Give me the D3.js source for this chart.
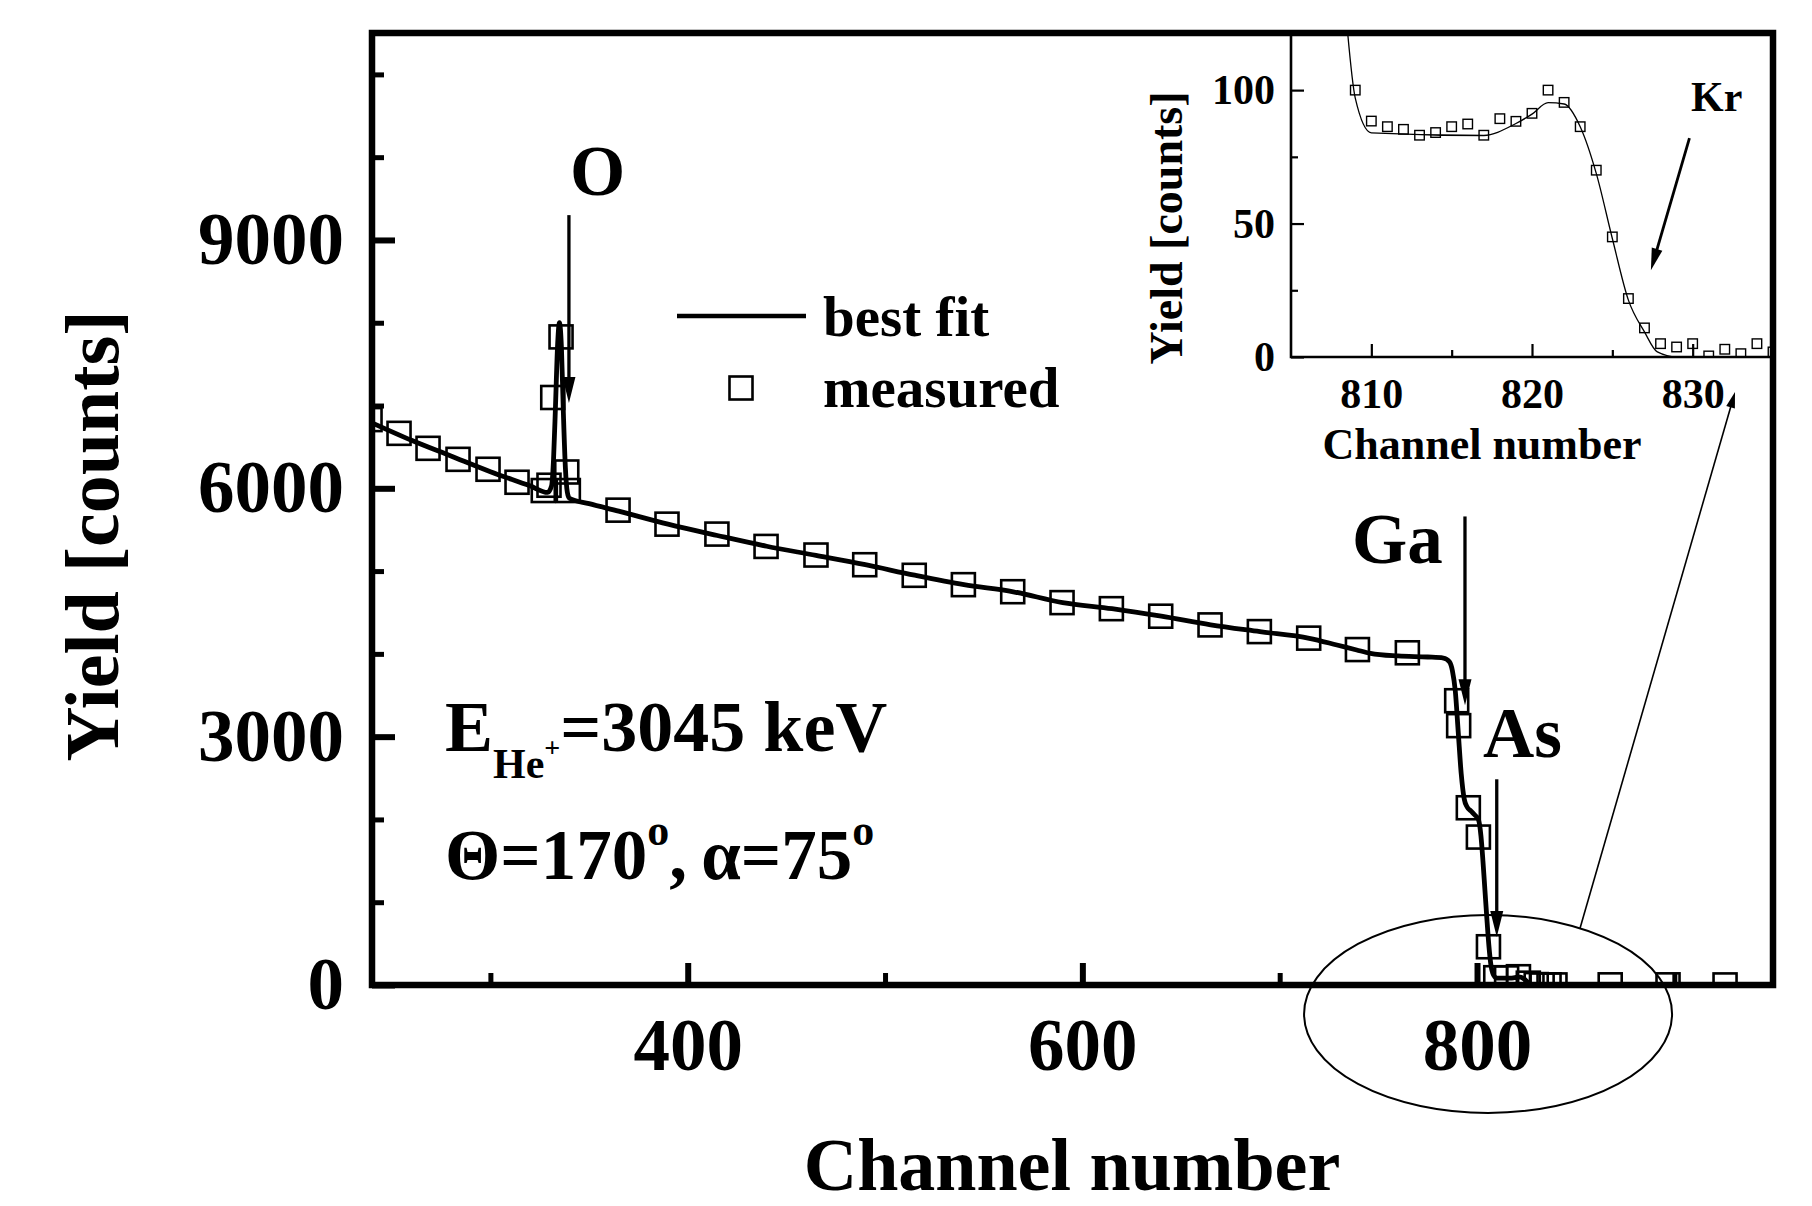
<!DOCTYPE html>
<html>
<head>
<meta charset="utf-8">
<script src="https://cdn.jsdelivr.net/npm/d3@7"></script>
<style>
  body { margin: 0; background: #fff; }
  text { font-family: "Liberation Serif", "Times New Roman", serif; font-weight: bold; fill: #000; }
</style>
</head>
<body>
<svg id="chart" width="1812" height="1206"></svg>
<script>
// ---- RBS spectrum: measured counts per channel ----
const measured = [
  [239, 6830], [253.7, 6664], [268.4, 6483], [283.6, 6350], [298.8, 6230], [313.5, 6073],
  [326.8, 5973], [329.7, 6037], [331.6, 7097], [335.8, 7829], [338.7, 6197], [339.5, 5973],
  [364.7, 5736], [389.5, 5567], [414.8, 5447], [439.7, 5298], [465.0, 5194], [489.7, 5077],
  [514.8, 4949], [539.7, 4836], [564.7, 4751], [589.7, 4619], [614.7, 4546], [639.7, 4455],
  [664.7, 4350], [689.7, 4269], [714.7, 4190], [739.4, 4052], [764.7, 4013], [789.7, 3434],
  [790.7, 3133], [795.6, 2141], [800.7, 1787], [805.8, 462], [809.5, 88], [815, 86],
  [821, 100], [826, 22], [830, 5], [833, 1], [836.5, 2], [839.5, 1], [867.5, 2],
  [896.8, 2], [925.7, 1]
];

// ---- simulated spectrum (best fit) ----
const bestFit = [
  [240, 6790], [260, 6580], [280, 6390], [300, 6200], [320, 6030], [329, 5950],
  [331, 6030], [332, 6350], [333, 7000], [334, 7700], [335, 8000], [336, 7700],
  [337, 6900], [338, 6250], [339, 5950], [340, 5880], [350, 5815], [365, 5724],
  [390, 5567], [415, 5430], [440, 5300], [465, 5190], [490, 5077], [515, 4950],
  [540, 4836], [565, 4750], [590, 4620], [615, 4546], [640, 4455], [665, 4350],
  [690, 4268], [715, 4188], [729, 4107], [739, 4047], [746, 4007], [760, 3975],
  [775, 3962], [783, 3950], [786, 3905], [787.5, 3800], [789, 3550], [790.5, 3050],
  [792, 2550], [793.5, 2250], [795, 2150], [797, 2100], [799, 2050], [800.7, 2000],
  [802, 1800], [803, 1500], [804, 1150], [805, 800], [806, 480], [807, 250],
  [808, 140], [809, 97], [810, 84], [817, 83], [819, 88], [821, 95], [822, 95],
  [823, 87], [824, 70], [825, 48], [826, 25], [827, 9], [828, 2], [829, 0], [950, 0]
];

// ---- inset: Kr region, channel resolution ----
const insetMeasured = [
  [809, 100], [810, 88.4], [811, 86.3], [812, 85.3], [813, 83.1], [814, 84.1],
  [815, 86.3], [816, 87.3], [817, 83.1], [818, 89.3], [819, 88.3], [820, 91.3],
  [821, 100], [822, 95.4], [823, 86.3], [824, 70], [825, 45], [826, 21.9],
  [827, 10.9], [828, 5], [829, 3.75], [830, 5], [831, 0.4], [832, 2.9],
  [833, 1.25], [834, 5], [835, 1.9]
];
const insetFit = [
  [808.4, 130], [809, 97], [810, 84], [817, 83], [819, 87.5], [820, 91], [821, 95.3],
  [822, 94.8], [823, 86.3], [824, 68.8], [825, 44.4], [826, 21.3], [827, 9.4],
  [827.8, 1.9], [829, 0], [835, 0]
];

// ---- axes ----
const xMajorTicks = [400, 600, 800];
const xMinorTicks = [300, 500, 700, 900];
const yMajorTicks = [0, 3000, 6000, 9000];
const yMinorTicks = [1000, 2000, 4000, 5000, 7000, 8000, 10000, 11000];
const insetXMajor = [810, 820, 830];
const insetXMinor = [815, 825];
const insetYMajor = [0, 50, 100];
const insetYMinor = [25, 75];

// ---- element markers: [label, channel, arrow start, arrow tip, label channel, label yield, anchor] ----
const elementMarks = [
  ["O", 339.8, 9300, 7030, 354.3, 9540, "middle"],
  ["Ga", 793.9, 5660, 3380, 736.6, 5100, "start"],
  ["As", 810.0, 2485, 580, 803.0, 2754, "start"]
];
// Kr arrow in the inset: start and tip (channel, yield)
const krArrow = [[829.8, 82], [827.4, 32.5]];
const krLabel = [829.9, 92.2];

const svg = d3.select("#chart");
const plot = { left: 372, top: 33, right: 1773, bottom: 985 };
const x = d3.scaleLinear().domain([240, 950]).range([plot.left, plot.right]);
const y = d3.scaleLinear().domain([0, 11500]).range([plot.bottom, plot.top]);

const ins = { left: 1291, top: 33, right: 1773, bottom: 357 };
const xi = d3.scaleLinear().domain([805, 835]).range([ins.left, ins.right]);
const yi = d3.scaleLinear().domain([0, 121.4]).range([ins.bottom, ins.top]);

const defs = svg.append("defs");
defs.append("clipPath").attr("id", "clipMain").append("rect")
  .attr("x", plot.left).attr("y", plot.top)
  .attr("width", plot.right - plot.left).attr("height", plot.bottom - plot.top);
defs.append("clipPath").attr("id", "clipInset").append("rect")
  .attr("x", ins.left).attr("y", ins.top)
  .attr("width", ins.right - ins.left).attr("height", ins.bottom - ins.top);

function styleAxis(g, width, fontSize) {
  g.select(".domain").remove();
  g.selectAll(".tick line").attr("stroke", "#000").attr("stroke-width", width);
  g.selectAll(".tick text")
    .style("font-family", '"Liberation Serif", "Times New Roman", serif')
    .style("font-weight", "bold").style("font-size", fontSize + "px").attr("fill", "#000");
}

// main axes (inward ticks)
svg.append("g").attr("transform", `translate(0,${plot.bottom})`)
  .call(d3.axisBottom(x).tickValues(xMinorTicks).tickSize(-12).tickFormat(""))
  .call(g => styleAxis(g, 5, 0));
svg.append("g").attr("transform", `translate(0,${plot.bottom})`)
  .call(d3.axisBottom(x).tickValues(xMajorTicks).tickSize(-22).tickPadding(33).tickFormat(d3.format("d")))
  .call(g => styleAxis(g, 6, 73));
svg.append("g").attr("transform", `translate(${plot.left},0)`)
  .call(d3.axisLeft(y).tickValues(yMinorTicks).tickSize(-12).tickFormat(""))
  .call(g => styleAxis(g, 5, 0));
svg.append("g").attr("transform", `translate(${plot.left},0)`)
  .call(d3.axisLeft(y).tickValues(yMajorTicks).tickSize(-23).tickPadding(28).tickFormat(d3.format("d")))
  .call(g => styleAxis(g, 6, 73));

// main data
const mainLayer = svg.append("g").attr("clip-path", "url(#clipMain)");
const fitLine = d3.line().x(d => x(d[0])).y(d => y(d[1])).curve(d3.curveMonotoneX);
mainLayer.append("path").datum(bestFit).attr("d", fitLine)
  .attr("fill", "none").attr("stroke", "#000").attr("stroke-width", 4.8)
  .attr("stroke-linejoin", "round");
const sq = 23;
mainLayer.selectAll("rect.meas").data(measured).join("rect").attr("class", "meas")
  .attr("x", d => x(d[0]) - sq / 2).attr("y", d => y(d[1]) - sq / 2)
  .attr("width", sq).attr("height", sq)
  .attr("fill", "none").attr("stroke", "#000").attr("stroke-width", 2.6);

// ---- inset ----
svg.append("rect").attr("x", ins.left).attr("y", ins.top)
  .attr("width", ins.right - ins.left).attr("height", ins.bottom - ins.top).attr("fill", "#fff");
svg.append("g").attr("transform", `translate(0,${ins.bottom})`)
  .call(d3.axisBottom(xi).tickValues(insetXMinor).tickSize(-7).tickFormat(""))
  .call(g => styleAxis(g, 2.2, 0));
svg.append("g").attr("transform", `translate(0,${ins.bottom})`)
  .call(d3.axisBottom(xi).tickValues(insetXMajor).tickSize(-13).tickPadding(21).tickFormat(d3.format("d")))
  .call(g => styleAxis(g, 2.2, 42));
svg.append("g").attr("transform", `translate(${ins.left},0)`)
  .call(d3.axisLeft(yi).tickValues(insetYMinor).tickSize(-7).tickFormat(""))
  .call(g => styleAxis(g, 2.2, 0));
svg.append("g").attr("transform", `translate(${ins.left},0)`)
  .call(d3.axisLeft(yi).tickValues(insetYMajor).tickSize(-13).tickPadding(16).tickFormat(d3.format("d")))
  .call(g => styleAxis(g, 2.2, 42));
svg.append("path")
  .attr("d", `M${ins.left},${ins.top}V${ins.bottom}H${ins.right}`)
  .attr("fill", "none").attr("stroke", "#000").attr("stroke-width", 2.6);

const insetLayer = svg.append("g").attr("clip-path", "url(#clipInset)");
const insetLine = d3.line().x(d => xi(d[0])).y(d => yi(d[1])).curve(d3.curveMonotoneX);
insetLayer.append("path").datum(insetFit).attr("d", insetLine)
  .attr("fill", "none").attr("stroke", "#000").attr("stroke-width", 1.3);
const sqi = 9.5;
insetLayer.selectAll("rect.imeas").data(insetMeasured).join("rect").attr("class", "imeas")
  .attr("x", d => xi(d[0]) - sqi / 2).attr("y", d => yi(d[1]) - sqi / 2)
  .attr("width", sqi).attr("height", sqi)
  .attr("fill", "none").attr("stroke", "#000").attr("stroke-width", 1.4);

svg.append("text").attr("x", 1482).attr("y", 459)
  .attr("text-anchor", "middle").style("font-size", "44px").text("Channel number");
svg.append("text").attr("transform", "translate(1182,228) rotate(-90)")
  .attr("text-anchor", "middle").style("font-size", "46px").text("Yield [counts]");

// main frame
svg.append("rect").attr("x", plot.left).attr("y", plot.top)
  .attr("width", plot.right - plot.left).attr("height", plot.bottom - plot.top)
  .attr("fill", "none").attr("stroke", "#000").attr("stroke-width", 6.5);

// axis titles
svg.append("text").attr("x", 1072).attr("y", 1190).attr("text-anchor", "middle")
  .style("font-size", "74px").text("Channel number");
svg.append("text").attr("transform", "translate(118,536) rotate(-90)")
  .attr("text-anchor", "middle").style("font-size", "76px").text("Yield [counts]");

// arrows
function arrow(x1, y1, x2, y2, w, headLen, headW) {
  const dx = x2 - x1, dy = y2 - y1, L = Math.hypot(dx, dy);
  const ux = dx / L, uy = dy / L;
  const bx = x2 - ux * headLen, by = y2 - uy * headLen;
  svg.append("line").attr("x1", x1).attr("y1", y1).attr("x2", bx + ux * 2).attr("y2", by + uy * 2)
    .attr("stroke", "#000").attr("stroke-width", w);
  svg.append("path")
    .attr("d", `M${x2},${y2}L${bx - uy * headW / 2},${by + ux * headW / 2}L${bx + uy * headW / 2},${by - ux * headW / 2}Z`)
    .attr("fill", "#000");
}

elementMarks.forEach(([label, ch, y0, y1, lx, ly, anchor]) => {
  arrow(x(ch), y(y0), x(ch), y(y1), 3.3, 26, 13);
  svg.append("text").attr("x", x(lx)).attr("y", y(ly)).attr("text-anchor", anchor)
    .style("font-size", "71px").text(label);
});
arrow(xi(krArrow[0][0]), yi(krArrow[0][1]), xi(krArrow[1][0]), yi(krArrow[1][1]), 2.8, 22, 11);
svg.append("text").attr("x", xi(krLabel[0])).attr("y", yi(krLabel[1]))
  .style("font-size", "42px").text("Kr");

// zoom region marker and leader to the inset
const ellipse = { ch: 805.6, counts: -350, rx: 184, ry: 99 };
svg.append("ellipse").attr("cx", x(ellipse.ch)).attr("cy", y(ellipse.counts))
  .attr("rx", ellipse.rx).attr("ry", ellipse.ry)
  .attr("fill", "none").attr("stroke", "#000").attr("stroke-width", 2);
const ang = Math.atan2(-0.882, 0.509);
const lx0 = x(ellipse.ch) + ellipse.rx * Math.cos(ang), ly0 = y(ellipse.counts) + ellipse.ry * Math.sin(ang);
arrow(lx0, ly0, 1735, 392, 1.6, 16, 9);

// legend
svg.append("line").attr("x1", 677).attr("x2", 806).attr("y1", 316).attr("y2", 316)
  .attr("stroke", "#000").attr("stroke-width", 4.5);
svg.append("rect").attr("x", 741 - 11.5).attr("y", 388 - 11.5).attr("width", 23).attr("height", 23)
  .attr("fill", "none").attr("stroke", "#000").attr("stroke-width", 2.6);
svg.append("text").attr("x", 823).attr("y", 336).style("font-size", "57px").text("best fit");
svg.append("text").attr("x", 823).attr("y", 407).style("font-size", "57px").text("measured");

// experimental conditions
const t1 = svg.append("text").attr("x", 445).attr("y", 751).style("font-size", "72px");
t1.append("tspan").text("E");
t1.append("tspan").attr("dy", 27).style("font-size", "42px").text("He");
t1.append("tspan").attr("dy", -21).style("font-size", "28px").text("+");
t1.append("tspan").attr("dy", -6).text("=3045 keV");

const t2 = svg.append("text").attr("x", 445).attr("y", 879).style("font-size", "71px");
t2.append("tspan").text("Θ=170");
t2.append("tspan").attr("dy", -34).style("font-size", "44px").text("o");
t2.append("tspan").attr("dy", 34).text(",\u2009α=75");
t2.append("tspan").attr("dy", -34).style("font-size", "44px").text("o");
</script>
</body>
</html>
